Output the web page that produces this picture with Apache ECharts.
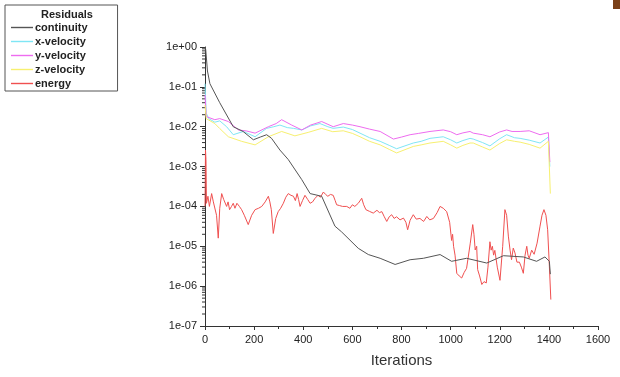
<!DOCTYPE html>
<html><head><meta charset="utf-8">
<script src="https://cdn.jsdelivr.net/npm/echarts@6/dist/echarts.min.js"></script>
<style>html,body{margin:0;padding:0;background:#fff}#c{width:620px;height:377px}</style>
</head><body><div id="c"></div>
<script>
// ---- data ----
const xTicks = [0, 200, 400, 600, 800, 1000, 1200, 1400, 1600];
const yTickValues = [1e-7, 1e-6, 1e-5, 1e-4, 1e-3, 1e-2, 1e-1, 1];
const yTickLabels = ['1e-07', '1e-06', '1e-05', '1e-04', '1e-03', '1e-02', '1e-01', '1e+00'];
const yMinorMantissas = [2, 3, 4, 5, 6, 7, 8, 9];
const yMinorTicks = [];
for (let d = -7; d < 0; d++) yMinorMantissas.forEach(m => yMinorTicks.push(m * Math.pow(10, d)));

const seriesNames = ['continuity', 'x-velocity', 'y-velocity', 'z-velocity', 'energy'];

const contIter = [0, 3, 10, 20, 60, 115, 155, 197, 225, 251, 271, 305, 339, 394, 428, 475, 529, 556, 624, 665, 713, 774, 835, 889, 957, 1004, 1065, 1147, 1215, 1296, 1350, 1384, 1402, 1406];
const contVal = [1.0, 0.85, 0.25, 0.12, 0.04, 1.0e-2, 7.6e-3, 4.7e-3, 5.5e-3, 6.3e-3, 5.1e-3, 2.6e-3, 1.5e-3, 4.7e-4, 2.1e-4, 1.8e-4, 3.2e-5, 2.3e-5, 8.9e-6, 6.2e-6, 5.0e-6, 3.5e-6, 4.6e-6, 5.0e-6, 6.2e-6, 4.2e-6, 5.0e-6, 3.8e-6, 5.8e-6, 5.4e-6, 4.2e-6, 5.4e-6, 4.2e-6, 2.0e-6];

const xvIter = [0, 5, 15, 40, 60, 88, 115, 156, 204, 251, 280, 305, 335, 360, 394, 430, 468, 500, 522, 563, 600, 631, 670, 713, 750, 780, 848, 880, 916, 970, 1000, 1025, 1050, 1079, 1092, 1130, 1160, 1200, 1228, 1260, 1283, 1320, 1364, 1398, 1404];
const xvVal = [0.12, 2.2e-2, 1.6e-2, 1.3e-2, 1.4e-2, 1.0e-2, 6.3e-3, 7.6e-3, 5.6e-3, 9.1e-3, 1.0e-2, 1.1e-2, 9.5e-3, 9.1e-3, 8.3e-3, 1.05e-2, 1.2e-2, 1.0e-2, 9.1e-3, 9.8e-3, 8.5e-3, 6.9e-3, 5.3e-3, 4.3e-3, 3.4e-3, 2.8e-3, 3.9e-3, 4.3e-3, 5.1e-3, 5.6e-3, 4.7e-3, 3.9e-3, 4.5e-3, 5.1e-3, 4.9e-3, 4.0e-3, 3.3e-3, 5.0e-3, 6.3e-3, 5.3e-3, 5.1e-3, 4.6e-3, 3.9e-3, 5.5e-3, 1.0e-3];

const yvIter = [0, 5, 40, 60, 95, 136, 170, 204, 258, 290, 312, 353, 394, 430, 475, 522, 563, 600, 631, 670, 713, 767, 800, 835, 870, 916, 970, 1000, 1025, 1050, 1079, 1092, 1130, 1160, 1200, 1228, 1250, 1283, 1320, 1364, 1398, 1404];
const yvVal = [6.3e-2, 1.8e-2, 1.5e-2, 1.6e-2, 1.35e-2, 8.3e-3, 7.8e-3, 6.9e-3, 1.0e-2, 1.2e-2, 1.5e-2, 1.1e-2, 8.3e-3, 1.1e-2, 1.35e-2, 1.0e-2, 1.2e-2, 1.1e-2, 1.0e-2, 8.7e-3, 7.6e-3, 4.9e-3, 5.5e-3, 6.3e-3, 6.8e-3, 7.6e-3, 8.3e-3, 7.5e-3, 6.3e-3, 7.0e-3, 7.6e-3, 6.9e-3, 6.3e-3, 5.6e-3, 7.4e-3, 8.3e-3, 7.6e-3, 7.6e-3, 7.9e-3, 6.3e-3, 7.1e-3, 1.3e-3];

const zvIter = [0, 5, 40, 60, 95, 149, 204, 258, 312, 366, 420, 475, 520, 563, 600, 631, 670, 713, 750, 780, 848, 880, 916, 970, 1000, 1025, 1050, 1079, 1092, 1130, 1160, 1200, 1228, 1260, 1283, 1320, 1364, 1398, 1406];
const zvVal = [3.5e-2, 1.6e-2, 1.2e-2, 9.0e-3, 5.6e-3, 4.3e-3, 3.5e-3, 5.6e-3, 7.6e-3, 5.9e-3, 7.2e-3, 9.1e-3, 7.5e-3, 7.9e-3, 6.8e-3, 5.6e-3, 4.3e-3, 3.5e-3, 2.7e-3, 2.2e-3, 3.2e-3, 3.5e-3, 3.9e-3, 4.3e-3, 3.5e-3, 2.9e-3, 3.4e-3, 3.9e-3, 3.9e-3, 3.1e-3, 2.6e-3, 3.8e-3, 4.7e-3, 4.3e-3, 4.1e-3, 3.6e-3, 2.9e-3, 4.3e-3, 2.1e-4];

const enIter = [0, 2, 4, 6, 12, 18, 27, 34, 40, 47, 54, 60, 68, 76, 88, 94, 100, 108, 115, 122, 130, 140, 149, 160, 176, 190, 204, 218, 231, 245, 258, 264, 270, 278, 288, 298, 308, 319, 329, 339, 350, 360, 368, 375, 381, 387, 397, 407, 418, 428, 438, 448, 460, 470, 482, 491, 500, 511, 522, 530, 536, 548, 560, 577, 590, 600, 610, 624, 638, 646, 655, 670, 685, 700, 710, 720, 730, 740, 750, 760, 770, 780, 794, 808, 818, 825, 835, 848, 860, 875, 890, 903, 915, 930, 945, 957, 970, 984, 996, 1004, 1008, 1012, 1018, 1025, 1035, 1045, 1055, 1065, 1080, 1090, 1095, 1100, 1106, 1110, 1118, 1127, 1136, 1145, 1152, 1160, 1165, 1170, 1175, 1180, 1190, 1201, 1212, 1221, 1228, 1235, 1242, 1248, 1255, 1262, 1270, 1280, 1288, 1296, 1303, 1310, 1315, 1320, 1330, 1340, 1352, 1364, 1372, 1380, 1388, 1395, 1402, 1408];
const enVal = [1.0e-4, 2.6e-3, 1.5e-3, 1.2e-4, 1.8e-4, 1.0e-4, 2.1e-4, 1.3e-4, 1.2e-4, 6.0e-5, 1.6e-5, 9.0e-5, 2.1e-4, 1.5e-4, 1.0e-4, 1.3e-4, 8.3e-5, 1.0e-4, 1.2e-4, 9.0e-5, 1.2e-4, 1.0e-4, 8.3e-5, 6.0e-5, 3.5e-5, 6.0e-5, 8.3e-5, 9.0e-5, 1.0e-4, 1.3e-4, 1.8e-4, 1.3e-4, 8.3e-5, 2.1e-5, 5.0e-5, 7.4e-5, 9.0e-5, 1.2e-4, 1.7e-4, 2.1e-4, 1.9e-4, 1.8e-4, 1.4e-4, 2.1e-4, 1.5e-4, 1.0e-4, 1.4e-4, 1.9e-4, 1.5e-4, 1.2e-4, 1.3e-4, 1.6e-4, 1.9e-4, 1.7e-4, 2.3e-4, 2.0e-4, 1.8e-4, 2.0e-4, 1.9e-4, 1.4e-4, 1.1e-4, 1.05e-4, 1.0e-4, 1.0e-4, 9.0e-5, 1.1e-4, 1.0e-4, 1.2e-4, 1.6e-4, 1.1e-4, 8.3e-5, 7.5e-5, 6.8e-5, 8.0e-5, 7.0e-5, 7.4e-5, 5.5e-5, 4.2e-5, 5.5e-5, 6.2e-5, 5.0e-5, 5.5e-5, 4.6e-5, 5.1e-5, 4.0e-5, 2.6e-5, 4.5e-5, 6.2e-5, 4.8e-5, 5.0e-5, 4.2e-5, 5.6e-5, 4.6e-5, 5.0e-5, 7.0e-5, 1.0e-4, 9.0e-5, 7.4e-5, 4.0e-5, 1.4e-5, 2.0e-5, 1.0e-5, 6.0e-6, 2.1e-6, 1.8e-6, 1.6e-6, 2.2e-6, 2.8e-6, 1.2e-5, 3.5e-5, 2.0e-5, 8.1e-6, 1.0e-5, 2.6e-6, 1.8e-6, 1.1e-6, 1.3e-6, 1.2e-6, 3.0e-6, 1.3e-5, 8.0e-6, 1.0e-5, 6.0e-6, 7.9e-6, 3.0e-6, 1.4e-6, 1.0e-5, 8.3e-5, 6.0e-5, 1.8e-5, 8.0e-6, 4.6e-6, 9.0e-6, 6.8e-6, 4.0e-6, 4.0e-6, 3.0e-6, 2.1e-6, 6.0e-6, 1.0e-5, 6.0e-6, 5.0e-6, 8.0e-6, 6.3e-6, 1.2e-5, 3.2e-5, 6.0e-5, 8.3e-5, 6.0e-5, 2.6e-5, 3.2e-6, 4.6e-7];

const colors = ['#555555', '#7fe6f5', '#ee6cf0', '#f7f070', '#f05050'];

// ---- chart ----
const pairs = (xs, ys) => xs.map((x, i) => [x, ys[i]]);
const dataSets = [pairs(contIter, contVal), pairs(xvIter, xvVal), pairs(yvIter, yvVal), pairs(zvIter, zvVal), pairs(enIter, enVal)];
const chart = echarts.init(document.getElementById('c'), null, {renderer: 'canvas'});
const font = '"Liberation Sans", Arial, sans-serif';

const lineSeries = seriesNames.map((n, i) => ({
  name: n, type: 'line', data: dataSets[i], showSymbol: false, symbol: 'none',
  lineStyle: {width: 1, color: colors[i]}, itemStyle: {color: colors[i], borderColor: colors[i]},
  z: i === 0 ? 4 : 3, animation: false
}));

const minorTickSeries = {
  type: 'custom', name: '_minor', silent: true, animation: false, clip: false,
  data: yMinorTicks.map(v => [0, v]),
  renderItem: (params, api) => {
    const p = api.coord([0, api.value(1)]);
    return {type: 'line', shape: {x1: p[0] - 3, y1: p[1], x2: p[0], y2: p[1]}, style: {stroke: '#333', lineWidth: 1}};
  }
};

chart.setOption({
  animation: false,
  backgroundColor: '#fff',
  color: colors,
  grid: {left: 205, right: 22, top: 47, bottom: 51, containLabel: false},
  legend: {
    data: seriesNames.map((n, i) => ({
      name: n, icon: 'rect',
      itemStyle: {color: colors[i], borderColor: colors[i], borderWidth: 0, opacity: 1}
    })),
    orient: 'vertical', left: 5, top: 5,
    padding: [17, 30, 2, 6], itemGap: 3, itemWidth: 22, itemHeight: 1.4,
    borderColor: '#555', borderWidth: 1,
    textStyle: {fontFamily: font, fontSize: 11, fontWeight: 'bold', color: '#222', padding: [0, 0, 0, -3]}
  },
  graphic: [
    {type: 'text', left: 41, top: 9, style: {text: 'Residuals', fontFamily: font, fontSize: 11, fontWeight: 'bold', fill: '#222'}},
    {type: 'rect', shape: {x: 613, y: 0, width: 7, height: 9}, style: {fill: '#7a4018'}}
  ],
  xAxis: {
    type: 'value', min: 0, max: 1600, interval: 200,
    name: 'Iterations', nameLocation: 'middle', nameGap: 27,
    nameTextStyle: {fontFamily: font, fontSize: 15, color: '#333'},
    axisLine: {onZero: false, lineStyle: {color: '#333', width: 1}},
    axisTick: {show: true, length: 4, lineStyle: {color: '#333'}},
    minorTick: {show: true, splitNumber: 2, length: 3, lineStyle: {color: '#333'}},
    splitLine: {show: false},
    axisLabel: {fontFamily: font, fontSize: 11, color: '#222', margin: 8,
      formatter: v => { const i = xTicks.indexOf(v); return i >= 0 ? String(xTicks[i]) : ''; }}
  },
  yAxis: {
    type: 'log', logBase: 10, min: 1e-7, max: 1,
    axisLine: {show: true, onZero: false, lineStyle: {color: '#333', width: 1}},
    axisTick: {show: true, length: 5, lineStyle: {color: '#333'}},
    splitLine: {show: false},
    axisLabel: {fontFamily: font, fontSize: 11, color: '#222', margin: 8,
      formatter: v => { let best = 0, bd = Infinity; yTickValues.forEach((t, i) => { const d = Math.abs(Math.log10(t) - Math.log10(v)); if (d < bd) { bd = d; best = i; } }); return yTickLabels[best]; }}
  },
  series: [...lineSeries, minorTickSeries]
});
</script></body></html>
